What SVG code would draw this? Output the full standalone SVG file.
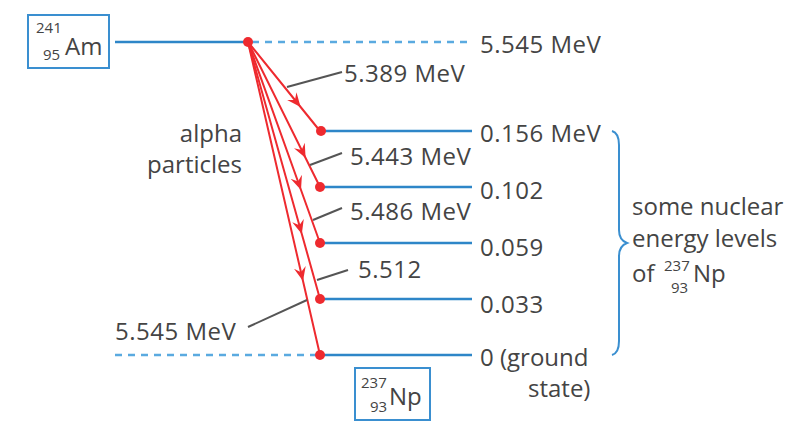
<svg xmlns="http://www.w3.org/2000/svg" width="800" height="428" viewBox="0 0 800 428">
<style>
text{font-family:"Open Sans","Noto Sans","Liberation Sans",sans-serif;fill:#444;font-size:24px}
.n{letter-spacing:0.5px}
.s{font-size:15px}
.lvl{stroke:#2e86c8;stroke-width:2.5;fill:none}
.dash{stroke:#5aaae0;stroke-width:2.5;stroke-dasharray:7 6;fill:none}
.ray{stroke:#ee2a2f;stroke-width:2;fill:none;marker-mid:url(#ah)}
.dot{fill:#ee2a2f}
.lead{stroke:#555;stroke-width:2;fill:none}
.box{fill:none;stroke:#3a8fd0;stroke-width:2}
</style>
<defs>
<marker id="ah" viewBox="-14 -7 15 14" refX="0" refY="0" markerWidth="15" markerHeight="14" markerUnits="userSpaceOnUse" orient="auto">
<path d="M0,0 L-14,-6 L-9,0 L-14,6 Z" fill="#ee2a2f"/>
</marker>
</defs>
<g id="am">
<rect class="box" x="28" y="15" width="81" height="53"/>
<text><tspan class="s" x="36" y="33">241</tspan><tspan class="s" x="43" y="60">95</tspan><tspan x="65" y="55">Am</tspan></text>
</g>
<g id="np">
<rect class="box" x="355" y="368" width="75" height="52"/>
<text><tspan class="s" x="361" y="388">237</tspan><tspan class="s" x="370" y="412">93</tspan><tspan x="389" y="405">Np</tspan></text>
</g>
<g id="levels">
<line class="lvl" x1="115" y1="42" x2="248" y2="42"/>
<line class="dash" x1="252" y1="42" x2="472" y2="42"/>
<line class="lvl" x1="320" y1="131" x2="472" y2="131"/>
<line class="lvl" x1="320" y1="187" x2="472" y2="187"/>
<line class="lvl" x1="320" y1="243" x2="472" y2="243"/>
<line class="lvl" x1="320" y1="299" x2="472" y2="299"/>
<line class="lvl" x1="320" y1="355" x2="472" y2="355"/>
<line class="dash" x1="115" y1="355" x2="316" y2="355"/>
</g>
<g id="connectors">
<path class="ray" d="M248,42 L300.6,107 L320,131"/>
<path class="ray" d="M248,42 L305.6,158 L320,187"/>
<path class="ray" d="M248,42 L301,190 L320,243"/>
<path class="ray" d="M248,42 L301.8,234 L320,299"/>
<path class="ray" d="M248,42 L303,281 L320,355"/>
<line class="lead" x1="287" y1="87" x2="342" y2="72"/>
<line class="lead" x1="310" y1="165" x2="342" y2="153"/>
<line class="lead" x1="313" y1="220" x2="342" y2="208"/>
<line class="lead" x1="317" y1="280" x2="348" y2="270"/>
<line class="lead" x1="248" y1="327" x2="307" y2="300"/>
</g>
<g id="dots">
<circle class="dot" cx="248" cy="42" r="5"/>
<circle class="dot" cx="321" cy="131" r="5"/>
<circle class="dot" cx="320" cy="187" r="5"/>
<circle class="dot" cx="320" cy="243" r="5"/>
<circle class="dot" cx="320" cy="299" r="5"/>
<circle class="dot" cx="320" cy="355" r="5"/>
</g>
<g id="labels">
<text class="n" x="480" y="53">5.545 MeV</text>
<text class="n" x="344" y="82">5.389 MeV</text>
<text class="n" x="480" y="142">0.156 MeV</text>
<text class="n" x="350" y="165">5.443 MeV</text>
<text class="n" x="480" y="199">0.102</text>
<text class="n" x="350" y="220">5.486 MeV</text>
<text class="n" x="480" y="256">0.059</text>
<text class="n" x="358" y="278">5.512</text>
<text class="n" x="480" y="313">0.033</text>
<text x="480" y="366">0 (ground</text>
<text x="528" y="397">state)</text>
<text class="n" x="115" y="340">5.545 MeV</text>
<text x="242" y="142" text-anchor="end">alpha</text>
<text x="242" y="173" text-anchor="end">particles</text>
</g>
<g id="brace">
<path d="M612,131 Q619,133 619,145 L619,230 Q619,240 627,243 Q619,246 619,256 L619,341 Q619,353 612,355" fill="none" stroke="#3a8fd0" stroke-width="2"/>
<text x="632" y="215">some nuclear</text>
<text x="632" y="247">energy levels</text>
<text><tspan x="632" y="282">of</tspan><tspan class="s" x="664" y="271">237</tspan><tspan class="s" x="671" y="293">93</tspan><tspan x="693" y="282">Np</tspan></text>
</g>
</svg>
